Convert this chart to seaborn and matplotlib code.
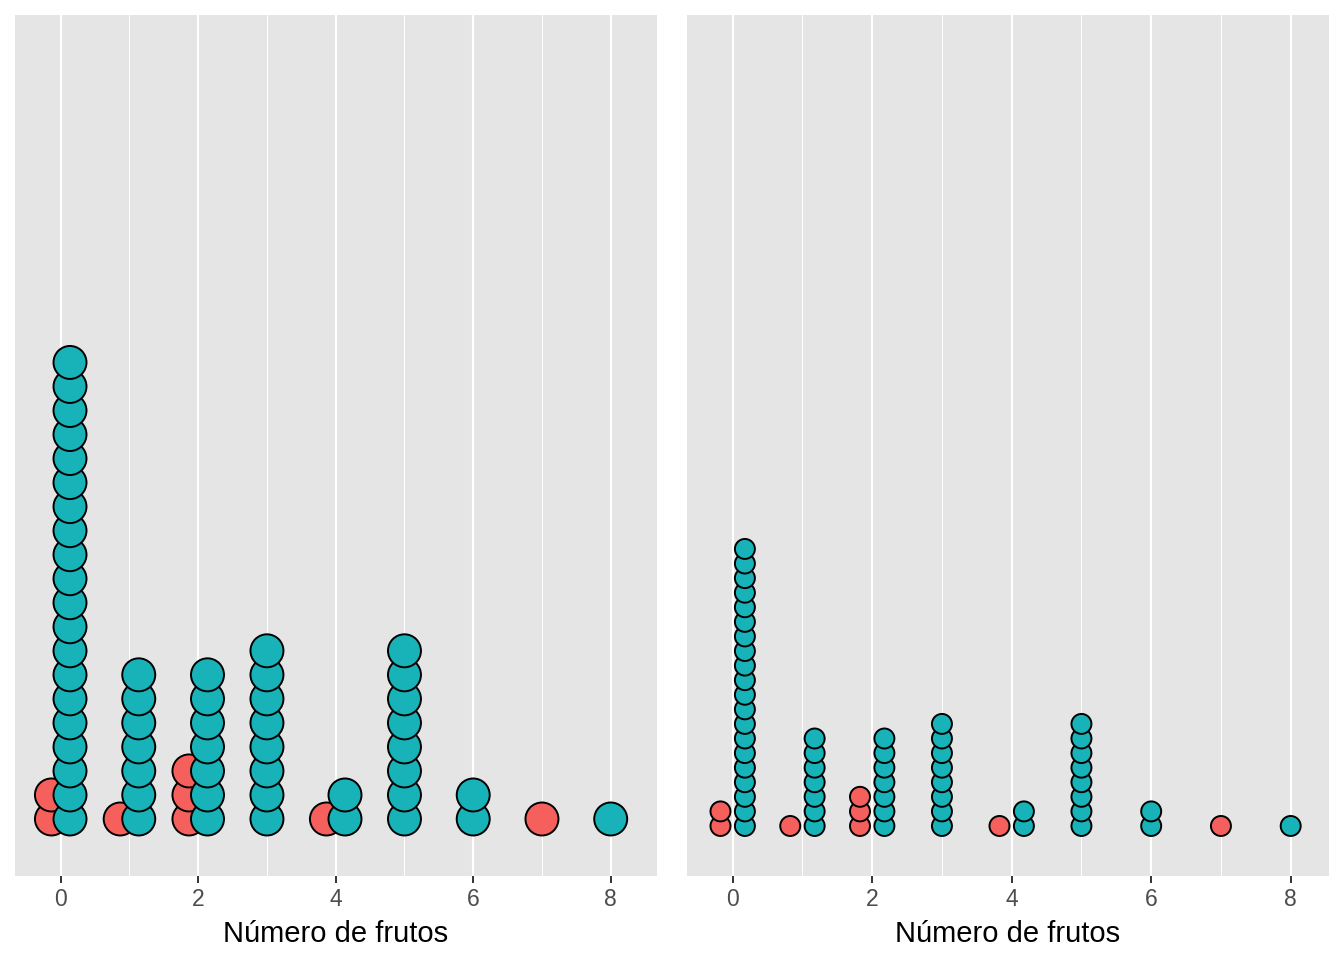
import numpy as np
import pandas as pd
import matplotlib
matplotlib.use("Agg")
import matplotlib.pyplot as plt
import seaborn as sns

# ---- data ----
valores = [0, 1, 2, 3, 4, 5, 6, 7, 8]
conteo_grupo1 = [2, 1, 3, 0, 1, 0, 0, 1, 0]    # red series
conteo_grupo2 = [20, 7, 7, 8, 2, 8, 2, 0, 1]   # teal series
grupos = ["grupo1", "grupo2"]
colores = {"grupo1": "#F5605C", "grupo2": "#17B3B8"}
xticks = [0, 2, 4, 6, 8]
xlabel = "Número de frutos"

sns.set_theme(style="white")
plt.rcParams["font.family"] = ["Liberation Sans", "DejaVu Sans"]

W, H = 1344, 960
fig = plt.figure(figsize=(W / 100, H / 100), dpi=100)


def build(offset):
    rows = []
    for g, counts, other, sign in (("grupo1", conteo_grupo1, conteo_grupo2, -1),
                                   ("grupo2", conteo_grupo2, conteo_grupo1, 1)):
        for v, c, oc in zip(valores, counts, other):
            dx = sign * offset if oc > 0 else 0.0
            for k in range(c):
                rows.append({"grupo": g, "x": v + dx, "nivel": k})
    return pd.DataFrame(rows)


panels = [
    dict(l=15, r=656.7, xlim=(-0.665, 8.669), ylim=(-2.36, 33.46), off=0.135, s=564),
    dict(l=687, r=1328.7, xlim=(-0.655, 8.545), ylim=(-3.41, 55.62), off=0.175, s=207),
]
top, bottom = 15, 875.7

for p in panels:
    ax = fig.add_axes([p["l"] / W, (H - bottom) / H, (p["r"] - p["l"]) / W, (bottom - top) / H])
    ax.set_facecolor("#E5E5E5")
    for sp in ax.spines.values():
        sp.set_visible(False)
    df = build(p["off"])
    sns.scatterplot(data=df, x="x", y="nivel", hue="grupo", hue_order=grupos,
                    palette=colores, s=p["s"], edgecolor="black", linewidth=1.4,
                    legend=False, ax=ax, zorder=3)
    ax.set_xlim(*p["xlim"])
    ax.set_ylim(*p["ylim"])
    ax.set_xticks(xticks)
    ax.set_xticks([1, 3, 5, 7], minor=True)
    ax.set_yticks([])
    ax.grid(False)
    for v in xticks:
        ax.axvline(v, color="white", lw=1.5, zorder=1)
    for v in [1, 3, 5, 7]:
        ax.axvline(v, color="white", lw=0.75, zorder=1)
    ax.tick_params(axis="x", which="major", length=5, width=1.4, color="#333333",
                   labelsize=16.5, labelcolor="#4D4D4D", pad=3.5, bottom=True)
    ax.tick_params(axis="x", which="minor", length=0)
    ax.set_xlabel(xlabel, fontsize=21, color="black", labelpad=6.5)
    ax.set_ylabel("")

fig.savefig("out.png", dpi=100, facecolor="white")
